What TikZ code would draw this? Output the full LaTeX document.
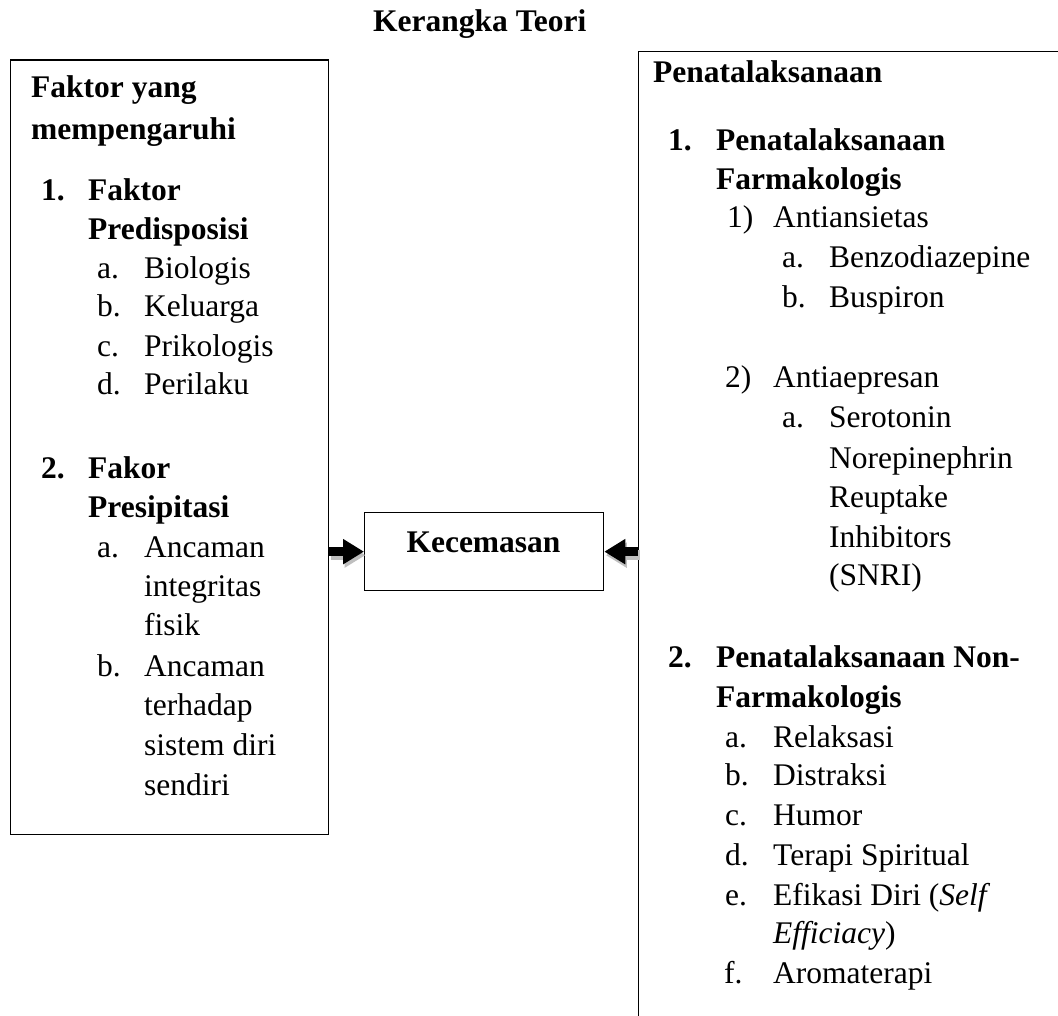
\documentclass[tikz,border=0pt]{standalone}
\usepackage{fontspec}
\setmainfont{Liberation Serif}
\usetikzlibrary{arrows.meta}
\tikzset{
  txt/.style={anchor=base west, inner sep=0pt, font=\fontsize{31.5pt}{39pt}\selectfont},
  btxt/.style={txt, font=\fontsize{31.5pt}{39pt}\selectfont\bfseries},
  frame/.style={draw=black, line width=1.3pt, anchor=north west, inner sep=0pt},
  bigarrow/.style={line width=9.5pt, -{Triangle[length=21pt,width=24pt]}},
  arrowshadow/.style={bigarrow, draw=black!25, transform canvas={xshift=1.5pt,yshift=-3.5pt}}
}
\begin{document}
\begin{tikzpicture}[x=1pt,y=-1pt]
\useasboundingbox (0,0) rectangle (1058,1016);
% title
\node[btxt] (title) at (373,32) {Kerangka Teori};
% boxes
\node[frame, minimum width=318pt, minimum height=774.5pt] (lbox) at (10,59.5) {};
\node[frame, minimum width=460pt, minimum height=1010pt] (rbox) at (638,51) {};
\node[frame, minimum width=239pt, minimum height=78pt] (kec) at (364,512) {};
\node[btxt, anchor=base] (kect) at (483.5,552) {Kecemasan};
% arrows
\draw[arrowshadow] (lbox.east |- kec.west) -- (kec.west);
\draw[arrowshadow] (rbox.west |- kec.east) -- (kec.east);
\draw[bigarrow] (lbox.east |- kec.west) -- (kec.west);
\draw[bigarrow] (rbox.west |- kec.east) -- (kec.east);
% left box text
\node[btxt] (l1) at (31,98) {Faktor yang};
\node[btxt] (l2) at (31,140) {mempengaruhi};
\node[btxt] (l3n) at (41,200.7) {1.};
\node[btxt] (l3) at (88,200.7) {Faktor};
\node[btxt] (l4) at (88,240) {Predisposisi};
\node[txt] (l5n) at (97,279) {a.};
\node[txt] (l5) at (144,279) {Biologis};
\node[txt] (l6n) at (97,317) {b.};
\node[txt] (l6) at (144,317) {Keluarga};
\node[txt] (l7n) at (97,357) {c.};
\node[txt] (l7) at (144,357) {Prikologis};
\node[txt] (l8n) at (97,395) {d.};
\node[txt] (l8) at (144,395) {Perilaku};
\node[btxt] (l9n) at (41,478) {2.};
\node[btxt] (l9) at (88,478) {Fakor};
\node[btxt] (l10) at (88,517) {Presipitasi};
\node[txt] (l11n) at (97,557) {a.};
\node[txt] (l11) at (144,557) {Ancaman};
\node[txt] (l12) at (144,596) {integritas};
\node[txt] (l13) at (144,635) {fisik};
\node[txt] (l14n) at (97,676) {b.};
\node[txt] (l14) at (144,676) {Ancaman};
\node[txt] (l15) at (144,715) {terhadap};
\node[txt] (l16) at (144,755) {sistem diri};
\node[txt] (l17) at (144,795) {sendiri};
% right box text
\node[btxt] (r1) at (653,83) {Penatalaksanaan};
\node[btxt] (r2n) at (668,151) {1.};
\node[btxt] (r2) at (716,151) {Penatalaksanaan};
\node[btxt] (r3) at (716,190) {Farmakologis};
\node[txt] (r4n) at (727,228) {1)};
\node[txt] (r4) at (773,228) {Antiansietas};
\node[txt] (r5n) at (782,268) {a.};
\node[txt] (r5) at (829,268) {Benzodiazepine};
\node[txt] (r6n) at (782,308) {b.};
\node[txt] (r6) at (829,308) {Buspiron};
\node[txt] (r7n) at (725,388) {2)};
\node[txt] (r7) at (773,388) {Antiaepresan};
\node[txt] (r8n) at (782,428) {a.};
\node[txt] (r8) at (829,428) {Serotonin};
\node[txt] (r9) at (829,468) {Norepinephrin};
\node[txt] (r10) at (829,507) {Reuptake};
\node[txt] (r11) at (829,547) {Inhibitors};
\node[txt] (r12) at (829,585) {(SNRI)};
\node[btxt] (r13n) at (668,667) {2.};
\node[btxt] (r13) at (716,667) {Penatalaksanaan Non-};
\node[btxt] (r14) at (716,707) {Farmakologis};
\node[txt] (r15n) at (725,747) {a.};
\node[txt] (r15) at (773,747) {Relaksasi};
\node[txt] (r16n) at (725,785) {b.};
\node[txt] (r16) at (773,785) {Distraksi};
\node[txt] (r17n) at (725,825) {c.};
\node[txt] (r17) at (773,825) {Humor};
\node[txt] (r18n) at (725,865) {d.};
\node[txt] (r18) at (773,865) {Terapi Spiritual};
\node[txt] (r19n) at (725,905) {e.};
\node[txt] (r19) at (773,905) {Efikasi Diri (\textit{Self}};
\node[txt] (r20) at (773,943) {\textit{Efficiacy})};
\node[txt] (r21n) at (724,983) {f.};
\node[txt] (r21) at (773,983) {Aromaterapi};
\end{tikzpicture}
\end{document}
